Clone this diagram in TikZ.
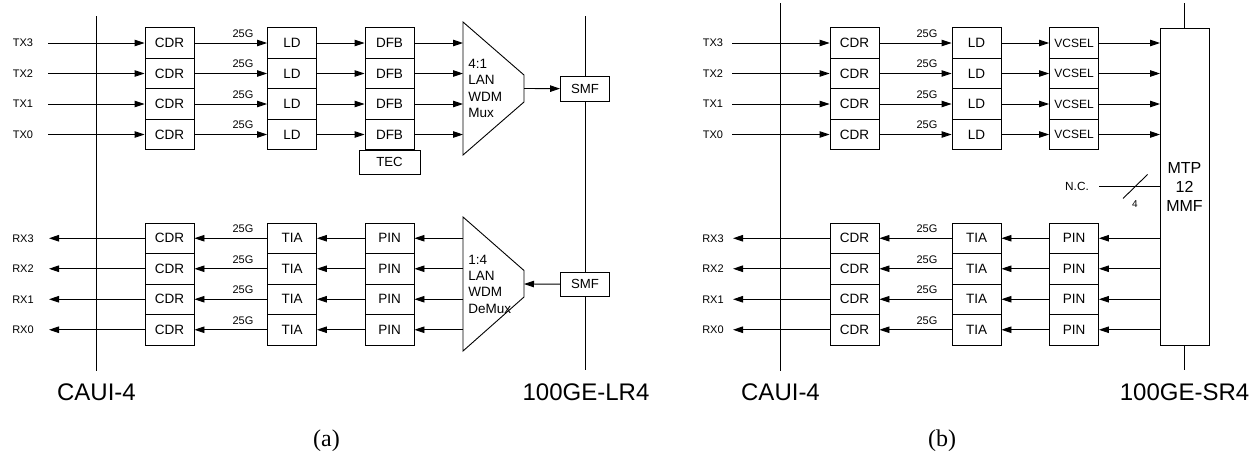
\documentclass[tikz,border=0pt]{standalone}
\usepackage{fontspec}
\setmainfont{Liberation Sans}
\newfontfamily\capfont{Liberation Serif}
\usetikzlibrary{arrows.meta}

\tikzset{
  blockbox/.style={draw=black, fill=white, inner sep=0pt, minimum width=49pt, minimum height=30.5pt, font=\fontsize{13.5}{16}\selectfont},
  smallbox/.style={blockbox, font=\fontsize{12}{14}\selectfont},
  fiberbox/.style={blockbox, minimum height=24.5pt, font=\fontsize{13.2}{16}\selectfont},
  sig/.style={draw=black, -{Triangle[length=10pt, width=6.5pt]}},
  portlabel/.style={inner sep=0pt, font=\fontsize{11}{13}\selectfont},
  muxlabel/.style={inner sep=0pt, align=left, anchor=west, font=\fontsize{13.5}{16.3}\selectfont},
  stdlabel/.style={inner sep=0pt, font=\fontsize{24}{28}\selectfont},
  caplabel/.style={inner sep=0pt, font=\capfont\fontsize{24}{28}\selectfont}
}

\begin{document}
\begin{tikzpicture}[x=1pt, y=-1pt, line width=0.9pt]

  \useasboundingbox (0,0) rectangle (1259,456);

  % panel (a)
  \coordinate (ahosttop) at (96.5,16);
  \coordinate (ahostbot) at (96.5,371);
  \coordinate (alinetop) at (585,16);
  \coordinate (alinebot) at (585,370);
  \draw (ahosttop) -- (ahostbot);
  \draw (alinetop) -- (alinebot);

  \foreach \i/\y in {3/43, 2/73.5, 1/104, 0/134.5} {
    \node[portlabel] (atxl\i) at (23,\y) {TX\i};
    \coordinate (atxs\i) at (48,\y);
    \node[blockbox] (atxcdr\i) at (169.5,\y) {CDR};
    \node[blockbox] (atxld\i) at (292,\y) {LD};
    \node[blockbox] (atxdfb\i) at (389.5,\y) {DFB};
    \coordinate (amuxin\i) at (463,\y);
    \node[portlabel] (atxrate\i) at (243,\y-9.5) {25G};
    \draw[sig] (atxs\i) -- (atxcdr\i);
    \draw[sig] (atxcdr\i) -- (atxld\i);
    \draw[sig] (atxld\i) -- (atxdfb\i);
    \draw[sig] (atxdfb\i) -- (amuxin\i);
  }
  \node[fiberbox, minimum width=61pt] (atec) at (389.5,162.25) {TEC};

  \draw (463,22) -- (524,75) -- (524,102) -- (463,155) -- cycle;
  \coordinate (amuxout) at (524,88.5);
  \node[muxlabel] (amuxl) at (468,88.5) {4:1\\LAN\\WDM\\Mux};
  \node[fiberbox] (atxsmf) at (585,88.75) {SMF};
  \draw[sig] (amuxout) -- (atxsmf);

  \foreach \i/\y in {3/238.25, 2/268.75, 1/299.25, 0/329.75} {
    \node[portlabel] (arxl\i) at (23,\y) {RX\i};
    \coordinate (arxs\i) at (49,\y);
    \node[blockbox] (arxcdr\i) at (169.5,\y) {CDR};
    \node[blockbox] (arxtia\i) at (292,\y) {TIA};
    \node[blockbox] (arxpin\i) at (389.5,\y) {PIN};
    \coordinate (ademuxout\i) at (463,\y);
    \node[portlabel] (arxrate\i) at (243,\y-9.5) {25G};
    \draw[sig] (arxcdr\i) -- (arxs\i);
    \draw[sig] (arxtia\i) -- (arxcdr\i);
    \draw[sig] (arxpin\i) -- (arxtia\i);
    \draw[sig] (ademuxout\i) -- (arxpin\i);
  }

  \draw (463,217) -- (524,270.5) -- (524,297) -- (463,351) -- cycle;
  \coordinate (ademuxin) at (524,284);
  \node[muxlabel] (ademuxl) at (468,284) {1:4\\LAN\\WDM\\DeMux};
  \node[fiberbox] (arxsmf) at (585,284.25) {SMF};
  \draw[sig] (arxsmf) -- (ademuxin);

  \node[stdlabel] (acaui) at (96.5,392.5) {CAUI-4};
  \node[stdlabel] (astd) at (586,392.5) {100GE-LR4};
  \node[caplabel] (acap) at (326.5,441) {(a)};

  % panel (b)
  \coordinate (bhosttop) at (780.5,3);
  \coordinate (bhostbot) at (780.5,371);
  \draw (bhosttop) -- (bhostbot);

  \node[blockbox, minimum height=317pt, font=\fontsize{16}{19}\selectfont, align=center] (bmtp) at (1184.5,186.5) {MTP\\12\\MMF};
  \coordinate (bmtptop) at (1184.5,3);
  \coordinate (bmtpbot) at (1184.5,370);
  \draw (bmtptop) -- (bmtp);
  \draw (bmtp) -- (bmtpbot);

  \foreach \i/\y in {3/43, 2/73.5, 1/104, 0/134.5} {
    \node[portlabel] (btxl\i) at (713,\y) {TX\i};
    \coordinate (btxs\i) at (732,\y);
    \node[blockbox] (btxcdr\i) at (854.5,\y) {CDR};
    \node[blockbox] (btxld\i) at (976.5,\y) {LD};
    \node[smallbox] (btxvcsel\i) at (1074,\y) {VCSEL};
    \coordinate (bmtpin\i) at (1160,\y);
    \node[portlabel] (btxrate\i) at (927,\y-9.5) {25G};
    \draw[sig] (btxs\i) -- (btxcdr\i);
    \draw[sig] (btxcdr\i) -- (btxld\i);
    \draw[sig] (btxld\i) -- (btxvcsel\i);
    \draw[sig] (btxvcsel\i) -- (bmtpin\i);
  }

  \foreach \i/\y in {3/238.25, 2/268.75, 1/299.25, 0/329.75} {
    \node[portlabel] (brxl\i) at (713,\y) {RX\i};
    \coordinate (brxs\i) at (733,\y);
    \node[blockbox] (brxcdr\i) at (854.5,\y) {CDR};
    \node[blockbox] (brxtia\i) at (976.5,\y) {TIA};
    \node[blockbox] (brxpin\i) at (1074,\y) {PIN};
    \coordinate (bmtpout\i) at (1160,\y);
    \node[portlabel] (brxrate\i) at (927,\y-9.5) {25G};
    \draw[sig] (brxcdr\i) -- (brxs\i);
    \draw[sig] (brxtia\i) -- (brxcdr\i);
    \draw[sig] (brxpin\i) -- (brxtia\i);
    \draw[sig] (bmtpout\i) -- (brxpin\i);
  }

  \node[portlabel, font=\fontsize{11.8}{14}\selectfont] (bnc) at (1077,186) {N.C.};
  \coordinate (bncs) at (1099,186.5);
  \coordinate (bnce) at (1160,186.5);
  \draw (bncs) -- (bnce);
  \coordinate (bslasha) at (1123,198.5);
  \coordinate (bslashb) at (1147.5,174.5);
  \draw (bslasha) -- (bslashb);
  \node[portlabel, font=\fontsize{10}{12}\selectfont] (bcount) at (1135,204) {4};

  \node[stdlabel] (bcaui) at (780.5,392.5) {CAUI-4};
  \node[stdlabel] (bstd) at (1184.5,392.5) {100GE-SR4};
  \node[caplabel] (bcap) at (942,441) {(b)};

\end{tikzpicture}
\end{document}
